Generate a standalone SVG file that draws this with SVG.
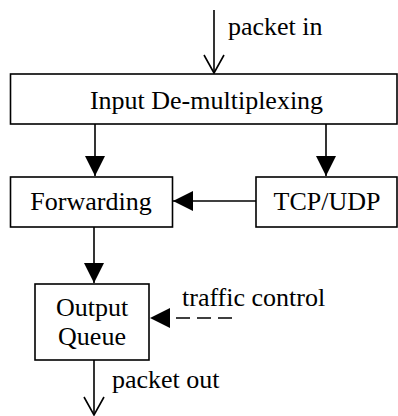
<svg xmlns="http://www.w3.org/2000/svg" width="398" height="416" viewBox="0 0 398 416">
<defs>
<style>
.box{fill:#fff;stroke:#000;stroke-width:1.6}
.t{font-family:"Liberation Serif","Times New Roman",serif;font-size:26px;fill:#000}
.c{text-anchor:middle}
.ln{stroke:#000;stroke-width:1.6;fill:none}
.dash{stroke-dasharray:14 7}
</style>
<marker id="fill" markerWidth="22" markerHeight="22" refX="20" refY="10" orient="auto" markerUnits="userSpaceOnUse">
<path d="M0,0 L20,10 L0,20 Z" fill="#000"/>
</marker>
<marker id="open" markerWidth="24" markerHeight="24" refX="19" refY="11" orient="auto" markerUnits="userSpaceOnUse">
<path d="M1,1 L19,11 L1,21" fill="none" stroke="#000" stroke-width="1.6"/>
</marker>
</defs>
<rect width="398" height="416" fill="#fff"/>
<g id="connectors">
<line class="ln" x1="214" y1="10" x2="214" y2="73" marker-end="url(#open)"/>
<line class="ln" x1="95" y1="124" x2="95" y2="176" marker-end="url(#fill)"/>
<line class="ln" x1="326" y1="124" x2="326" y2="176" marker-end="url(#fill)"/>
<line class="ln" x1="256" y1="201" x2="173" y2="201" marker-end="url(#fill)"/>
<line class="ln" x1="94" y1="227" x2="94" y2="283" marker-end="url(#fill)"/>
<line class="ln dash" x1="232" y1="318" x2="150" y2="318" marker-end="url(#fill)"/>
<line class="ln" x1="94" y1="360" x2="94" y2="415" marker-end="url(#open)"/>
<text class="t" x="228" y="35">packet in</text>
<text class="t" x="182" y="306">traffic control</text>
<text class="t" x="112" y="388">packet out</text>
</g>
<g id="input">
<rect class="box" x="10.5" y="74" width="386.5" height="50"/>
<text class="t c" x="206.5" y="109">Input De-multiplexing</text>
</g>
<g id="forwarding">
<rect class="box" x="10.5" y="177" width="162" height="50"/>
<text class="t c" x="91" y="210">Forwarding</text>
</g>
<g id="tcpudp">
<rect class="box" x="256" y="177" width="141" height="50"/>
<text class="t c" x="327" y="210">TCP/UDP</text>
</g>
<g id="queue">
<rect class="box" x="35" y="284" width="114" height="76"/>
<text class="t c" x="92" y="316">Output</text>
<text class="t c" x="92" y="345">Queue</text>
</g>
</svg>
